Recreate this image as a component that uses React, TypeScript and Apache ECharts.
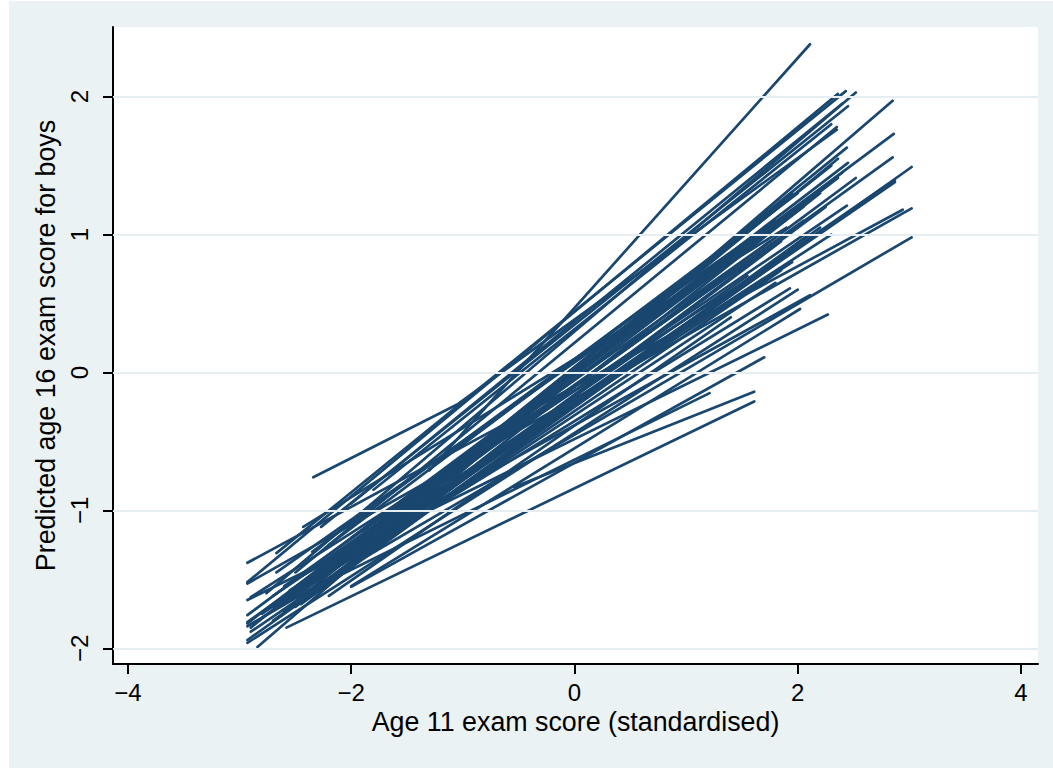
import React, { useEffect, useRef } from "react";
import * as echarts from "echarts";

// School-specific predicted lines: start (x1, y1) and end (x2, y2)
const x1s = [-1.30, -2.93, -2.67, -2.76, -2.27, -2.50, -1.03, -2.00, -1.80,
  -2.84, -2.93, -2.93, -2.93, -2.34, -2.80, -2.93, -2.93, -2.93, -2.60,
  -2.90, -2.60, -2.93, -2.50, -2.20, -2.70, -2.40, -2.10, -2.50, -2.30,
  -2.93, -2.00, -2.50, -2.70, -2.90, -2.00, -2.40, -0.54, -2.58, -2.93,
  -2.43, -2.67, -2.20, -1.90, -2.60, -2.30, -1.70, -2.80, -2.10, -2.45,
  -1.50, -2.00, -2.70, -2.35, -1.30, -2.55, -2.90, -1.20, -2.20, -1.60, -0.90, -2.75, -2.60];
const y1s = [-0.71, -1.52, -1.31, -1.60, -1.12, -1.45, -0.22, -0.95, -0.85,
  -1.99, -1.76, -1.81, -1.94, -0.76, -1.78, -1.38, -1.53, -1.84, -1.65,
  -1.85, -1.73, -1.82, -1.60, -1.41, -1.62, -1.52, -1.30, -1.70, -1.55,
  -1.65, -1.55, -1.50, -1.70, -1.88, -1.555, -1.59, -0.83, -1.85, -1.96,
  -1.12, -1.45, -1.25, -1.15, -1.55, -1.40, -1.10, -1.75, -1.45, -1.68,
  -0.95, -1.20, -1.80, -1.30, -0.70, -1.58, -1.63, -0.95, -1.62, -1.05, -0.55, -1.72, -1.68];
const x2s = [2.11, 2.36, 2.43, 2.52, 2.45, 2.35, 2.35, 2.40, 2.30,
  2.85, 2.86, 2.85, 3.02, -1.02, 2.87, 2.94, 3.02, 3.02, 2.80,
  2.44, 2.36, 2.45, 2.52, 2.36, 2.44, 2.30, 2.40, 2.20, 2.25,
  2.27, 2.02, 2.11, 1.93, 1.85, 1.70, 1.21, 1.61, 1.61, 2.00,
  1.90, 1.80, 2.00, 1.95, 1.75, 1.65, 2.05, 1.55, 1.85, 2.10,
  1.50, 1.70, 2.20, 1.60, 1.90, 1.95, 1.70, 1.80, 1.40, 2.30, 1.95, 2.05, 2.87];
const y2s = [2.38, 2.02, 2.04, 2.03, 1.93, 1.78, 1.76, 1.95, 1.80,
  1.97, 1.73, 1.56, 1.49, -0.22, 1.38, 1.18, 1.19, 0.98, 1.36,
  1.63, 1.55, 1.52, 1.41, 1.41, 1.21, 1.50, 1.45, 1.30, 1.20,
  0.42, 0.46, 0.56, 0.61, 0.74, 0.11, -0.15, -0.14, -0.21, 0.60,
  1.05, 1.10, 1.30, 1.15, 0.95, 0.85, 1.10, 0.70, 0.95, 1.00,
  0.90, 1.00, 1.05, 1.05, 1.25, 0.80, 0.75, 0.65, 0.40, 1.00, 1.30, 1.20, 1.39];

const xTicks = [-4, -2, 0, 2, 4];
const yTicks = [-2, -1, 0, 1, 2];

const NAVY = "#1a476f";
const FONT = "Liberation Sans, Arial, Helvetica, sans-serif";

function fmt(v: number) {
  return String(v).replace("-", "\u2212");
}

export default function App() {
  const ref = useRef<HTMLDivElement>(null);
  useEffect(() => {
    if (!ref.current) return;
    const chart = echarts.init(ref.current, undefined, { renderer: "svg" });
    const series: any[] = x1s.map((x, i) => ({
      type: "line",
      data: [[x, y1s[i]], [x2s[i], y2s[i]]],
      symbol: "none",
      z: 3,
      lineStyle: { color: NAVY, width: 2.7, cap: "round" },
      silent: true,
    }));
    series.push({
      type: "line",
      data: [],
      z: 1,
      markLine: {
        silent: true,
        symbol: "none",
        label: { show: false },
        lineStyle: { color: "#E6EEF1", width: 2, type: "solid" },
        data: yTicks.map((v) => ({ yAxis: v })),
      },
    });
    chart.setOption({
      animation: false,
      backgroundColor: "#EAF2F3",
      textStyle: { fontFamily: FONT },
      grid: {
        left: 104,
        right: 15,
        top: 26,
        bottom: 104,
        show: true,
        backgroundColor: "#ffffff",
        borderWidth: 0,
      },
      xAxis: {
        type: "value",
        min: -4.134,
        max: 4.152,
        axisLine: { onZero: false, lineStyle: { color: "#000", width: 2 } },
        axisTick: { customValues: xTicks, length: 10, lineStyle: { color: "#000", width: 2 } },
        axisLabel: {
          customValues: xTicks,
          formatter: (v: number) => fmt(v),
          color: "#000",
          fontSize: 24,
          margin: 16,
          fontFamily: FONT,
        },
        splitLine: { show: false },
        name: "Age 11 exam score (standardised)",
        nameLocation: "middle",
        nameGap: 43,
        nameTextStyle: { color: "#000", fontSize: 26.8, fontFamily: FONT },
      },
      yAxis: {
        type: "value",
        min: -2.114,
        max: 2.505,
        axisLine: { onZero: false, lineStyle: { color: "#000", width: 2 } },
        axisTick: { customValues: yTicks, length: 10, lineStyle: { color: "#000", width: 2 } },
        axisLabel: {
          customValues: yTicks,
          formatter: (v: number) => fmt(v),
          color: "#000",
          fontSize: 24,
          margin: 22,
          rotate: 90,
          fontFamily: FONT,
        },
        splitLine: { show: false },
        name: "Predicted age 16 exam score for boys",
        nameLocation: "middle",
        nameGap: 48,
        nameTextStyle: { color: "#000", fontSize: 26.8, fontFamily: FONT },
      },
      series,
    });
    return () => chart.dispose();
  }, []);
  return (
    <div
      style={{ position: "absolute", left: 9, top: 1, width: 1044, height: 767 }}
      ref={ref}
    />
  );
}
